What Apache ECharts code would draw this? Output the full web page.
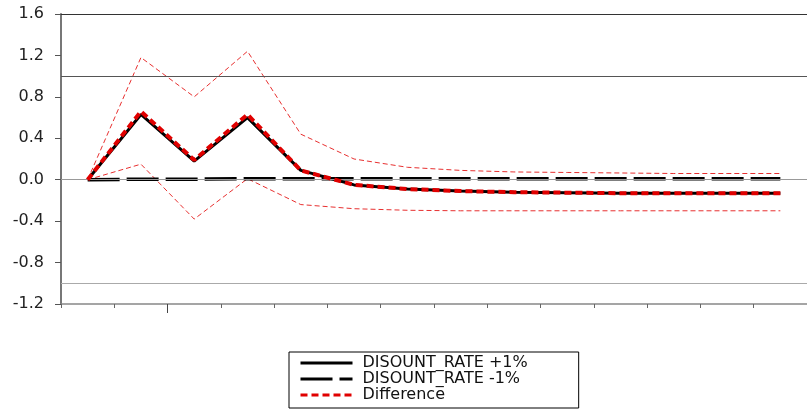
<!DOCTYPE html>
<html>
<head>
<meta charset="utf-8">
<script src="https://cdn.jsdelivr.net/npm/echarts@6/dist/echarts.min.js"></script>
<style>html,body{margin:0;padding:0;background:#fff;}#c{width:807px;height:409px;}</style>
</head>
<body>
<div id="c"></div>
<script>
var periods = ['1','2','3','4','5','6','7','8','9','10','11','12','13','14'];
var ratePlus = [0, 0.63, 0.18, 0.60, 0.09, -0.05, -0.09, -0.11, -0.12, -0.125, -0.13, -0.13, -0.13, -0.13];
var rateMinus = [0, 0.005, 0.005, 0.01, 0.01, 0.01, 0.01, 0.01, 0.01, 0.01, 0.01, 0.01, 0.01, 0.01];
var difference = [0, 0.66, 0.19, 0.63, 0.09, -0.05, -0.09, -0.11, -0.12, -0.125, -0.13, -0.13, -0.13, -0.13];
var upperBand = [0, 1.18, 0.80, 1.24, 0.44, 0.20, 0.12, 0.09, 0.075, 0.07, 0.065, 0.06, 0.06, 0.06];
var lowerBand = [0, 0.15, -0.38, 0.01, -0.24, -0.28, -0.295, -0.30, -0.30, -0.30, -0.30, -0.30, -0.30, -0.30];
var refLevels = [1.0, 0.0, -1.0];
var refColors = ['#555555', '#999999', '#aaaaaa'];
var majorTicks = [2];

var chart = echarts.init(document.getElementById('c'), null, {renderer: 'canvas'});
var font = 'DejaVu Sans';
chart.setOption({
  animation: false,
  backgroundColor: '#ffffff',
  grid: {left: 61, top: 14, right: -6, bottom: 105, show: false},
  legend: {
    orient: 'vertical', left: 289, top: 352, height: 60,
    data: ['DISOUNT_RATE +1%', 'DISOUNT_RATE -1%', 'Difference'],
    itemWidth: 52, itemHeight: 14, itemGap: 0,
    padding: [3, 51, 5, 10],
    borderColor: '#000', borderWidth: 1,
    itemStyle: {opacity: 0},
    lineStyle: {width: 3},
    textStyle: {fontFamily: font, fontSize: 16, lineHeight: 16, color: '#111', padding: [0, 0, 0, 5]},
    selectedMode: false
  },
  xAxis: [{
    type: 'category', data: periods, boundaryGap: true,
    axisLine: {onZero: false, lineStyle: {color: '#888', width: 1.5}},
    axisTick: {show: true, length: 4, lineStyle: {color: '#666'}},
    axisLabel: {show: false}
  }, {
    type: 'value', min: 0, max: periods.length, position: 'bottom',
    axisLine: {show: false, onZero: false}, splitLine: {show: false},
    axisTick: {show: true, length: 9, customValues: majorTicks, lineStyle: {color: '#444'}},
    axisLabel: {show: false}
  }, {
    type: 'category', data: periods, position: 'top',
    axisLine: {show: true, onZero: false, lineStyle: {color: '#333', width: 1}},
    axisTick: {show: false}, axisLabel: {show: false}
  }],
  yAxis: {
    type: 'value', min: -1.2, max: 1.6, interval: 0.4,
    axisLine: {show: true, onZero: false, lineStyle: {color: '#777', width: 2}},
    axisTick: {show: true, length: 6, lineStyle: {color: '#555'}},
    splitLine: {show: false},
    axisLabel: {margin: 17, fontFamily: font, fontSize: 16, color: '#222',
      formatter: function (v) { return v.toFixed(1); }}
  },
  series: [
    {name: 'Upper', type: 'line', data: upperBand, symbol: 'none', z: 2,
     lineStyle: {color: '#e83030', width: 1, type: [5, 3]},
     markLine: {silent: true, symbol: 'none', label: {show: false}, animation: false,
       data: refLevels.map(function (v, i) { return {yAxis: v, lineStyle: {color: refColors[i], width: 1, type: 'solid'}}; })}},
    {name: 'Lower', type: 'line', data: lowerBand, symbol: 'none', z: 2,
     lineStyle: {color: '#e83030', width: 1, type: [5, 3]}},
    {name: 'DISOUNT_RATE +1%', type: 'line', data: ratePlus, symbol: 'none', z: 3,
     lineStyle: {color: '#000', width: 3}},
    {name: 'DISOUNT_RATE -1%', type: 'line', data: rateMinus, symbol: 'none', z: 4,
     lineStyle: {color: '#000', width: 3.5, type: [32, 7]}},
    {name: 'Difference', type: 'line', data: difference, symbol: 'none', z: 5,
     lineStyle: {color: '#e00000', width: 4, type: [7, 4]}}
  ]
});
</script>
</body>
</html>
